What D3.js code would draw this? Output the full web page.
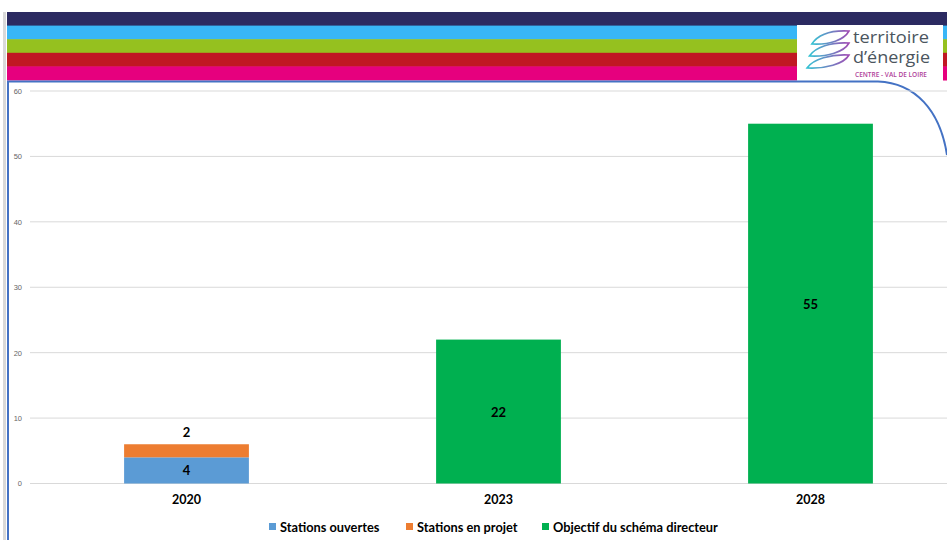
<!DOCTYPE html>
<html><head><meta charset="utf-8">
<script src="https://cdn.jsdelivr.net/npm/d3@7"></script>
<style>body{margin:0;background:#fff;}svg{display:block;}</style>
</head><body>
<script>
const categories = ["2020", "2023", "2028"];
const seriesNames = ["Stations ouvertes", "Stations en projet", "Objectif du schéma directeur"];
const stationsOuvertes = [4, 0, 0];
const stationsEnProjet = [2, 0, 0];
const objectifSchema = [0, 22, 55];
const yTicks = [0, 10, 20, 30, 40, 50, 60];
const colors = ["#5b9bd5", "#ed7d31", "#00b050"];
const stripeColors = ["#2b2a61", "#38b6f7", "#95c11f", "#c01823", "#e6007e"];

const W = 947, H = 540;
const svg = d3.select("body").append("svg").attr("width", W).attr("height", H);

// header stripes
const stripeY = d3.scaleBand().domain(d3.range(stripeColors.length)).range([12, 80]);
svg.selectAll("rect.stripe").data(stripeColors).enter().append("rect")
  .attr("x", 7).attr("y", (d, i) => stripeY(i)).attr("width", W - 7).attr("height", stripeY.bandwidth() + 0.5)
  .attr("fill", d => d);
// light gray left edge
svg.append("rect").attr("x", 3).attr("y", 12).attr("width", 3).attr("height", H - 12).attr("fill", "#d9d9d9");

// logo box
const logo = svg.append("g");
logo.append("rect").attr("x", 797).attr("y", 25).attr("width", 146).attr("height", 56).attr("fill", "#fff");
const defs = svg.append("defs");
const grad = defs.append("linearGradient").attr("id", "lg").attr("x1", "0%").attr("x2", "100%").attr("y1", "0%").attr("y2", "0%");
grad.append("stop").attr("offset", "0%").attr("stop-color", "#35c3d3");
grad.append("stop").attr("offset", "100%").attr("stop-color", "#a04cb4");
[0, 12, 24].forEach(dy => {
  const x0 = 807 + (24 - dy) * 0.2, y0 = 44 + dy, x1 = 849, y1 = 31 + dy;
  logo.append("path")
    .attr("d", `M${x0},${y0} C${x0 + 6},${y0 - 9} ${x1 - 18},${y1 - 1} ${x1},${y1} C${x1 - 5},${y1 + 9} ${x0 + 18},${y0 + 1} ${x0},${y0} Z`)
    .attr("fill", "none").attr("stroke", "url(#lg)").attr("stroke-width", 1.6);
});
logo.append("text").attr("x", 853).attr("y", 43).text("territoire").attr("textLength", 76).attr("lengthAdjust", "spacingAndGlyphs")
  .attr("font-family", "'Open Sans', sans-serif").attr("font-size", 16).attr("fill", "#4b555e");
logo.append("text").attr("x", 853).attr("y", 63).text("d’énergie").attr("textLength", 77).attr("lengthAdjust", "spacingAndGlyphs")
  .attr("font-family", "'Open Sans', sans-serif").attr("font-size", 16).attr("fill", "#4b555e");
logo.append("text").attr("x", 855).attr("y", 77).text("CENTRE - VAL DE LOIRE").attr("textLength", 72).attr("lengthAdjust", "spacingAndGlyphs")
  .attr("font-family", "'Open Sans', sans-serif").attr("font-size", 7).attr("font-weight", "600").attr("fill", "#b0429a");

// blue frame
svg.append("path")
  .attr("d", "M8,540 L8,81.5 L878,81.5 C915,83 940,110 947,155")
  .attr("fill", "none").attr("stroke", "#4472c4").attr("stroke-width", 2);

// scales
const x = d3.scaleBand().domain(categories).range([30.5, 966.5]).paddingInner(0.6).paddingOuter(0.3);
const y = d3.scaleLinear().domain([0, 60]).range([483.5, 91]);

// grid
svg.selectAll("line.grid").data(yTicks).enter().append("line")
  .attr("x1", 30).attr("x2", W).attr("y1", d => y(d)).attr("y2", d => y(d))
  .attr("stroke", "#d9d9d9").attr("stroke-width", 1);
// y axis labels
const yAxis = d3.axisLeft(y).tickValues(yTicks).tickSize(0).tickPadding(0);
const ya = svg.append("g").attr("transform", "translate(22,0)").call(yAxis);
ya.select(".domain").remove();
ya.selectAll("text").attr("font-family", "'Liberation Sans', sans-serif").attr("font-size", 7.5).attr("fill", "#666666");

// stacked data
const rows = categories.map((c, i) => ({cat: c, s0: stationsOuvertes[i], s1: stationsEnProjet[i], s2: objectifSchema[i]}));
const stack = d3.stack().keys(["s0", "s1", "s2"])(rows);
const g = svg.append("g");
stack.forEach((layer, li) => {
  g.selectAll(null).data(layer.filter(d => d[1] - d[0] > 0)).enter().append("rect")
    .attr("x", d => x(d.data.cat)).attr("width", x.bandwidth())
    .attr("y", d => y(d[1])).attr("height", d => y(d[0]) - y(d[1]))
    .attr("fill", colors[li]);
});
// labels
const lab = (tx, ty, t) => svg.append("text").attr("x", tx).attr("y", ty).attr("text-anchor", "middle")
  .attr("dominant-baseline", "central").attr("font-family", "Lato, sans-serif").attr("font-weight", "bold")
  .attr("font-size", 13).attr("fill", "#000").text(t);
stack.forEach((layer, li) => {
  layer.forEach(d => {
    const v = d[1] - d[0];
    if (v <= 0) return;
    const cx = x(d.data.cat) + x.bandwidth() / 2;
    if (li === 1) lab(cx, y(d[1]) - 12, v);
    else lab(cx, (y(d[0]) + y(d[1])) / 2, v);
  });
});

// x axis labels
const xAxis = d3.axisBottom(x).tickSize(0).tickPadding(0);
const xa = svg.append("g").attr("transform", "translate(0,500)").call(xAxis);
xa.select(".domain").remove();
xa.selectAll("text").attr("dy", "0.35em").attr("font-family", "Lato, sans-serif").attr("font-weight", "bold").attr("font-size", 12.5).attr("fill", "#000");

// legend
const legX = [269, 406, 542];
seriesNames.forEach((n, i) => {
  svg.append("rect").attr("x", legX[i]).attr("y", 523).attr("width", 7).attr("height", 7).attr("fill", colors[i]);
  svg.append("text").attr("x", legX[i] + 11).attr("y", 527).attr("dominant-baseline", "central")
    .attr("font-family", "Lato, sans-serif").attr("font-weight", "bold").attr("font-size", 12.8).attr("fill", "#000").text(n);
});
</script>
</body></html>
